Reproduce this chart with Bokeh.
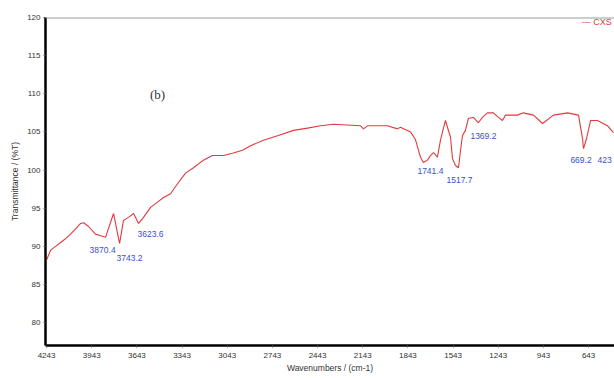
from bokeh.plotting import figure
from bokeh.models import Range1d, FixedTicker, Span, ColumnDataSource
from bokeh.core.properties import value
from bokeh.embed import file_html
from bokeh.resources import INLINE

# Spectrum (wavenumber cm-1, transmittance %T)
wavenumber = [4243, 4216, 4183, 4150, 4117, 4084, 4050, 4017, 3997, 3964, 3918, 3884, 3851,
              3798, 3758, 3732, 3699, 3665, 3632, 3599, 3552, 3506, 3466, 3420, 3373, 3320,
              3267, 3201, 3141, 3068, 3008, 2942, 2888, 2802, 2709, 2603, 2510, 2424, 2337,
              2158, 2138, 2112, 1979, 1912, 1893, 1826, 1793, 1760, 1740, 1713, 1693, 1673,
              1647, 1627, 1594, 1560, 1547, 1527, 1507, 1494, 1481, 1461, 1441, 1408, 1375,
              1348, 1315, 1275, 1242, 1215, 1195, 1182, 1116, 1076, 1009, 949, 876, 783,
              710, 683, 677, 657, 630, 584, 517, 478]
transmittance = [88.2, 89.5, 90.0, 90.5, 91.0, 91.6, 92.3, 93.0, 93.1, 92.6, 91.6, 91.4, 91.2,
                 94.3, 90.4, 93.4, 93.8, 94.3, 93.0, 93.8, 95.1, 95.8, 96.4, 96.9, 98.2, 99.6,
                 100.3, 101.3, 101.9, 101.9, 102.2, 102.6, 103.2, 103.9, 104.5, 105.2, 105.5, 105.8, 106.0,
                 105.8, 105.4, 105.8, 105.8, 105.4, 105.6, 105.0, 104.0, 101.7, 101.0, 101.3, 101.9, 102.3,
                 101.7, 103.9, 106.5, 104.3, 101.5, 100.6, 100.3, 102.5, 104.5, 105.2, 106.8, 106.9, 106.2,
                 106.9, 107.5, 107.5, 106.9, 106.5, 107.2, 107.2, 107.2, 107.5, 107.2, 106.1, 107.2, 107.5,
                 107.2, 104.1, 102.8, 104.1, 106.5, 106.5, 105.8, 104.9]

# Peak annotations
peak_labels = ["3870.4", "3743.2", "3623.6", "1741.4", "1517.7", "1369.2", "669.2"]
peak_label_x = [3957, 3778, 3639, 1780, 1587, 1428, 764]
peak_label_y = [89.5, 88.5, 91.6, 99.9, 98.7, 104.5, 101.3]
edge_label = "423"
edge_label_x = 490
edge_label_y = 101.3

legend_text = "\u2014 CXS"

x_ticks = [4243, 3943, 3643, 3343, 3043, 2743, 2443, 2143, 1843, 1543, 1243, 943, 643]
y_ticks = [80, 85, 90, 95, 100, 105, 110, 115, 120]

p = figure(width=614, height=378, output_backend="svg", toolbar_location=None,
           x_range=Range1d(4250, 471), y_range=Range1d(77.0, 120.0),
           min_border_left=45, min_border_right=0, min_border_top=17, min_border_bottom=33)
p.background_fill_color = "white"
p.border_fill_color = "white"
p.outline_line_color = None
p.grid.visible = False

p.line(wavenumber, transmittance, line_color="#e3393d", line_width=1.1)

src = ColumnDataSource(dict(x=peak_label_x, y=peak_label_y, t=peak_labels))
p.text(x="x", y="y", text="t", source=src, text_color="#3a4fd0",
       text_font=value("Liberation Sans"), text_font_size="8.5px",
       text_baseline="middle", text_align="left")
p.text(x=[edge_label_x], y=[edge_label_y], text=[edge_label], text_color="#3a4fd0",
       text_font=value("Liberation Sans"), text_font_size="8.5px",
       text_baseline="middle", text_align="right")

p.text(x=[3506], y=[109.9], text=["(b)"], text_color="#333333",
       text_font=value("Liberation Serif"), text_font_size="13px",
       text_align="center", text_baseline="middle")

p.text(x=[490], y=[119.4], text=[legend_text], text_color="#e3393d",
       text_font=value("Liberation Sans"), text_font_size="9px",
       text_align="right", text_baseline="middle")

p.add_layout(Span(location=120, dimension="width", line_color="#9c9c9c", line_width=2))

for ax in (p.xaxis[0], p.yaxis[0]):
    ax.axis_line_color = "black"
    ax.axis_line_width = 2.5
    ax.major_tick_line_color = "#555555"
    ax.major_tick_in = 0
    ax.major_tick_out = 2
    ax.minor_tick_line_color = None
    ax.major_label_text_font = "Liberation Sans"
    ax.major_label_text_font_size = "8px"
    ax.major_label_text_color = "#333333"
    ax.axis_label_text_font = "Liberation Sans"
    ax.axis_label_text_font_size = "8.5px"
    ax.axis_label_text_font_style = "normal"
    ax.axis_label_text_color = "#333333"

p.xaxis.ticker = FixedTicker(ticks=x_ticks)
p.yaxis.ticker = FixedTicker(ticks=y_ticks)
p.xaxis.axis_label = "Wavenumbers / (cm-1)"
p.yaxis.axis_label = "Transmittance / (%T)"
p.xaxis.major_label_standoff = 5
p.xaxis.axis_label_standoff = 2
p.yaxis.major_label_standoff = 3
p.yaxis.axis_label_standoff = 4

open("out.html", "w").write(file_html(p, INLINE))
